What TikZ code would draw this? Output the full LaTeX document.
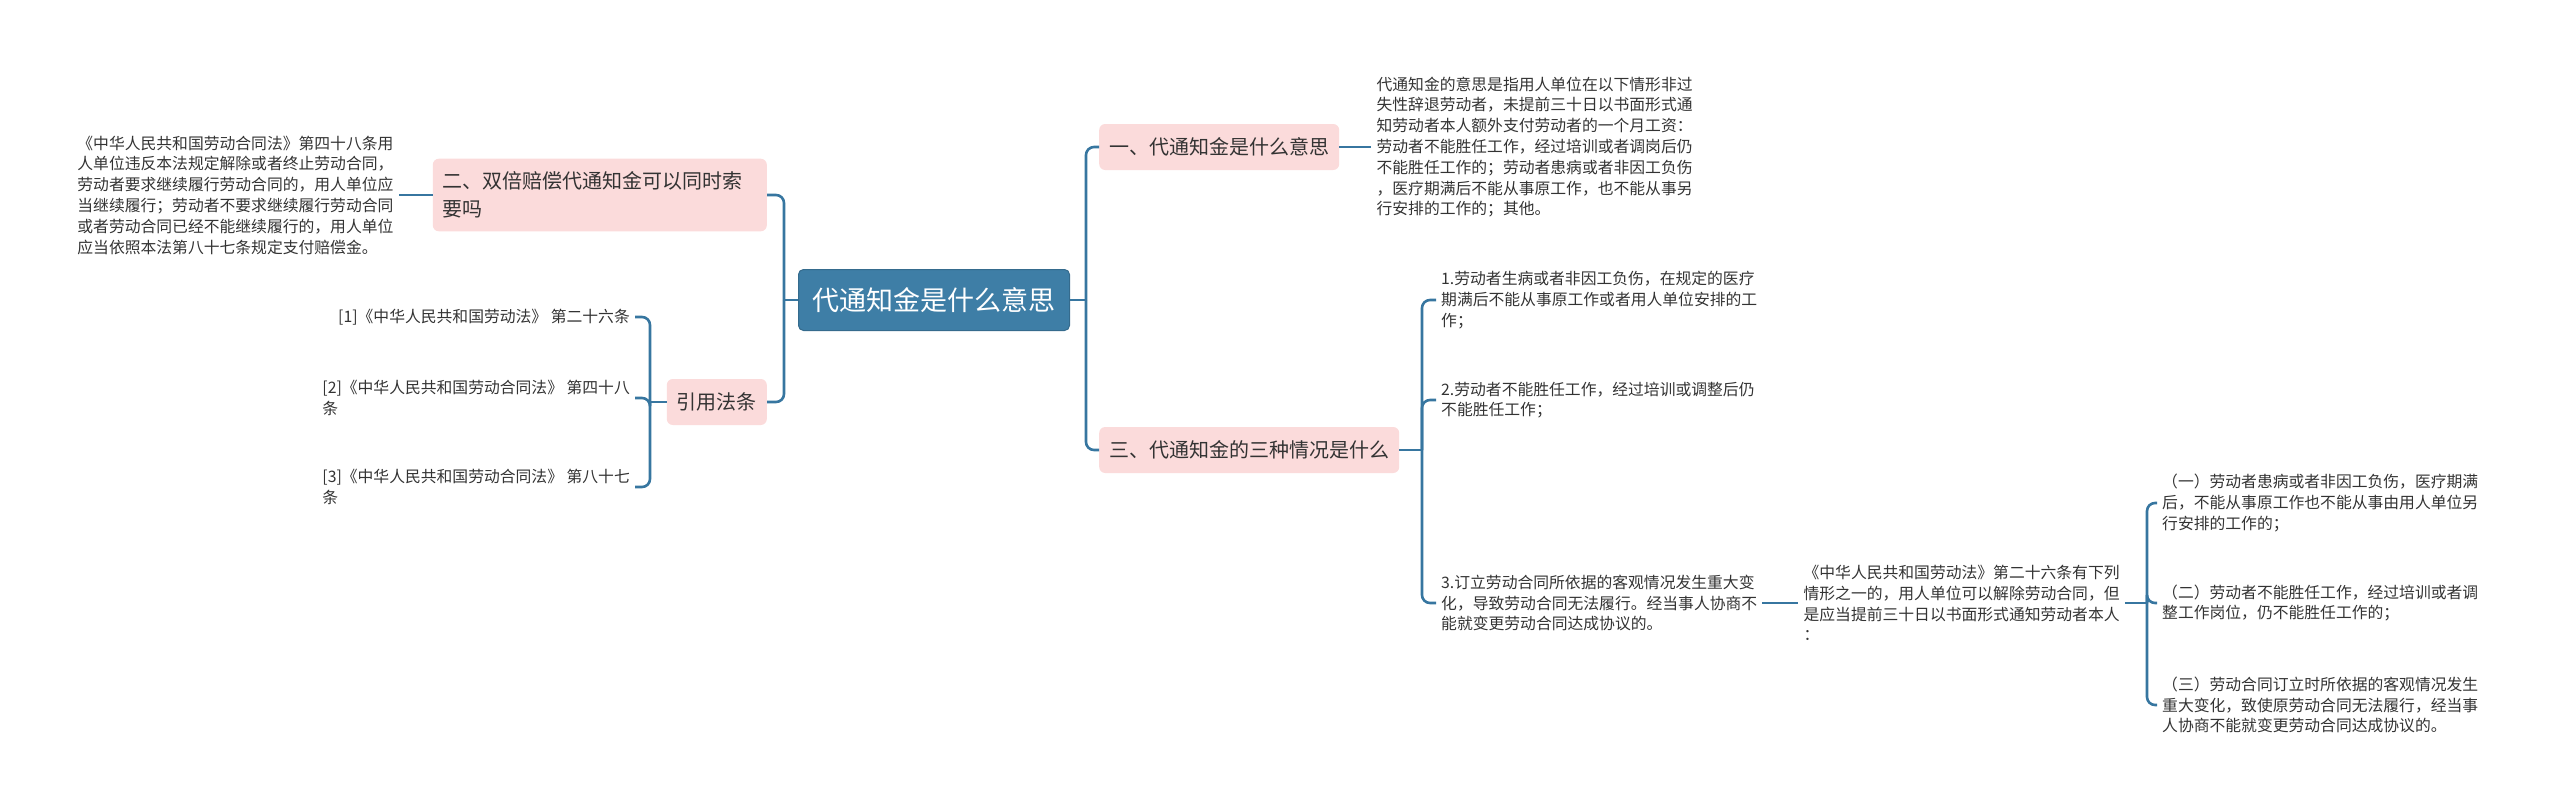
\documentclass[tikz,border=0pt]{standalone}
\usepackage{fontspec}
\setmainfont{Noto Sans CJK SC}
\usetikzlibrary{positioning,calc}
\definecolor{rootblue}{RGB}{62,126,166}
\definecolor{topicpink}{RGB}{251,219,219}
\definecolor{linkblue}{RGB}{55,118,160}
\definecolor{txt}{RGB}{51,51,51}
\tikzset{
  root/.style={rectangle, rounded corners=5pt, fill=rootblue, draw=rootblue!85!black, line width=1pt,
               text=white, font=\fontsize{27}{32}\selectfont, inner xsep=14pt, minimum height=61pt},
  topic/.style={rectangle, rounded corners=6pt, fill=topicpink, text=txt, align=left,
                font=\fontsize{20}{28}\selectfont, inner xsep=10pt, inner ysep=13pt, minimum height=46pt},
  leaf/.style={text=txt, align=left, font=\fontsize{15.8}{20.8}\selectfont, inner sep=5pt},
  link/.style={draw=linkblue, line width=2.6pt, rounded corners=8pt},
}

\begin{document}
\begin{tikzpicture}[x=1pt, y=-1pt]
\useasboundingbox (0,0) rectangle (2560,809);
% centre topic
\node[root] (root) at (934,300) {代通知金是什么意思};
% main branches
\node[topic, anchor=west] (what) at (1099,147) {一、代通知金是什么意思};
\node[topic, anchor=west] (cases) at (1099,450) {三、代通知金的三种情况是什么};
\node[topic, anchor=east, text width=314pt] (double) at (767,195) {二、双倍赔偿代通知金可以同时索\\要吗};
\node[topic, anchor=east] (refs) at (767,402) {引用法条};
% notes
\node[leaf, right=32pt of what] (whatnote) {代通知金的意思是指用人单位在以下情形非过\\失性辞退劳动者，未提前三十日以书面形式通\\知劳动者本人额外支付劳动者的一个月工资：\\劳动者不能胜任工作，经过培训或者调岗后仍\\不能胜任工作的；劳动者患病或者非因工负伤\\，医疗期满后不能从事原工作，也不能从事另\\行安排的工作的；其他。};
\node[leaf, left=34pt of double] (doublenote) {《中华人民共和国劳动合同法》第四十八条用\\人单位违反本法规定解除或者终止劳动合同，\\劳动者要求继续履行劳动合同的，用人单位应\\当继续履行；劳动者不要求继续履行劳动合同\\或者劳动合同已经不能继续履行的，用人单位\\应当依照本法第八十七条规定支付赔偿金。};
% three cases
\node[leaf, anchor=west] (case1) at (1436,300) {1.劳动者生病或者非因工负伤，在规定的医疗\\期满后不能从事原工作或者用人单位安排的工\\作；};
\node[leaf, anchor=west] (case2) at (1436,400) {2.劳动者不能胜任工作，经过培训或调整后仍\\不能胜任工作；};
\node[leaf, anchor=west] (case3) at (1436,603) {3.订立劳动合同所依据的客观情况发生重大变\\化，导致劳动合同无法履行。经当事人协商不\\能就变更劳动合同达成协议的。};
\node[leaf, right=36pt of case3] (law26) {《中华人民共和国劳动法》第二十六条有下列\\情形之一的，用人单位可以解除劳动合同，但\\是应当提前三十日以书面形式通知劳动者本人\\：};
\node[leaf, anchor=west] (item1) at (2157,503) {（一）劳动者患病或者非因工负伤，医疗期满\\后，不能从事原工作也不能从事由用人单位另\\行安排的工作的；};
\node[leaf, anchor=west] (item2) at (2157,603) {（二）劳动者不能胜任工作，经过培训或者调\\整工作岗位，仍不能胜任工作的；};
\node[leaf, anchor=west] (item3) at (2157,705) {（三）劳动合同订立时所依据的客观情况发生\\重大变化，致使原劳动合同无法履行，经当事\\人协商不能就变更劳动合同达成协议的。};
% references
\node[leaf, anchor=east] (ref1) at (635,317) {[1]《中华人民共和国劳动法》 第二十六条};
\node[leaf, anchor=east] (ref2) at (635,398) {[2]《中华人民共和国劳动合同法》 第四十八\\条};
\node[leaf, anchor=east] (ref3) at (635,487) {[3]《中华人民共和国劳动合同法》 第八十七\\条};
% junctions
\coordinate (jr) at (1086,300);
\coordinate (jl) at (784,300);
\coordinate (jcase) at (1422,450);
\coordinate (jlaw) at (2147,603);
\coordinate (jref) at (650,402);
% links
\draw[link] (root.east) -- (jr);
\draw[link] (jr) |- (what.west);
\draw[link] (jr) |- (cases.west);
\draw[link] (root.west) -- (jl);
\draw[link] (jl) |- (double.east);
\draw[link] (jl) |- (refs.east);
\draw[link] (what) -- (whatnote);
\draw[link] (double) -- (doublenote);
\draw[link] (cases.east) -- (jcase);
\draw[link] (jcase) |- (case1.west);
\draw[link] (jcase) |- (case2.west);
\draw[link] (jcase) |- (case3.west);
\draw[link] (case3) -- (law26);
\draw[link] (law26.east) -- (jlaw);
\draw[link] (jlaw) |- (item1.west);
\draw[link] (jlaw) |- (item2.west);
\draw[link] (jlaw) |- (item3.west);
\draw[link] (refs.west) -- (jref);
\draw[link] (jref) |- (ref1.east);
\draw[link] (jref) |- (ref2.east);
\draw[link] (jref) |- (ref3.east);
\end{tikzpicture}
\end{document}
